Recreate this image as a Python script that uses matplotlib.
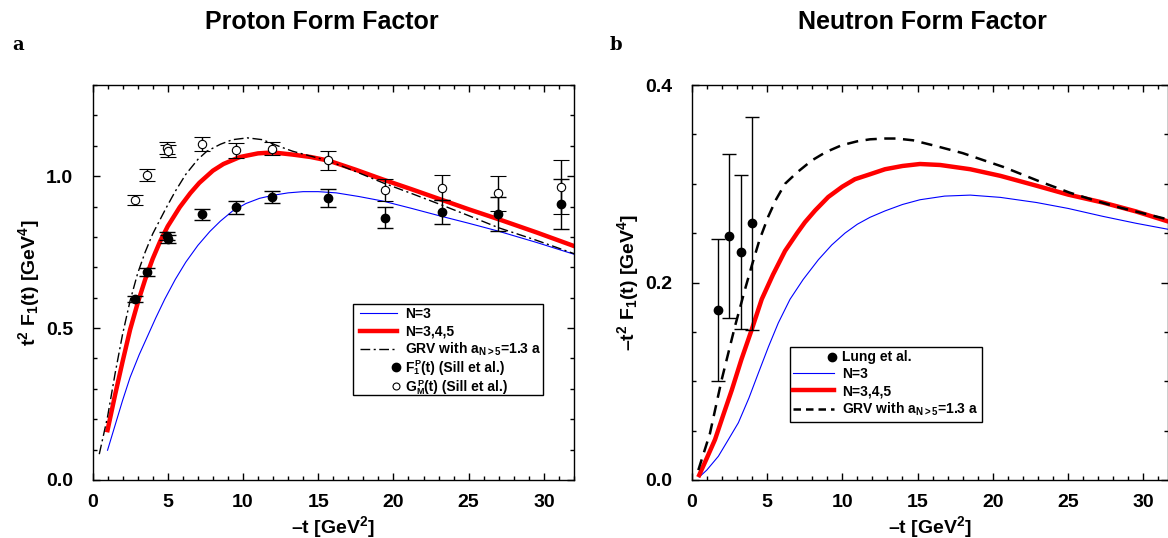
import numpy as np
import matplotlib
matplotlib.use("Agg")
import matplotlib.pyplot as plt
from matplotlib.ticker import MultipleLocator
from matplotlib.legend_handler import HandlerLine2D
from matplotlib.lines import Line2D
from matplotlib.patches import Rectangle

plt.rcParams['font.family'] = ['Liberation Sans', 'DejaVu Sans']
plt.rcParams['font.weight'] = 'bold'
plt.rcParams['mathtext.fontset'] = 'custom'
plt.rcParams['mathtext.rm'] = 'Liberation Sans:bold'
plt.rcParams['mathtext.it'] = 'Liberation Sans:bold'
plt.rcParams['mathtext.bf'] = 'Liberation Sans:bold'
plt.rcParams['mathtext.default'] = 'rm'

# ---------------- Proton data ----------------
p_t = [2.84, 3.6, 4.95, 5.05, 7.28, 9.57, 11.94, 15.67, 19.42, 23.2, 26.94, 31.16]
p_F1 = [0.596, 0.686, 0.803, 0.792, 0.874, 0.898, 0.932, 0.929, 0.863, 0.882, 0.876, 0.908]
p_F1_err = [0.011, 0.013, 0.013, 0.013, 0.017, 0.021, 0.02, 0.029, 0.034, 0.039, 0.055, 0.082]
p_GM = [0.921, 1.004, 1.093, 1.082, 1.106, 1.085, 1.091, 1.052, 0.954, 0.962, 0.943, 0.964]
p_GM_err = [0.017, 0.021, 0.02, 0.02, 0.023, 0.025, 0.023, 0.032, 0.037, 0.042, 0.058, 0.089]

p_n3_t = [1.0, 1.5, 2.0, 2.5, 3.1, 3.7, 4.2, 4.8, 5.5, 6.2, 7.0, 7.8, 8.5, 9.3, 10.2, 11.1,
          12.0, 13.0, 14.0, 15.0, 16.2, 17.7, 19.3, 21.2, 23.1, 25.0, 26.9, 29.5, 32.0]
p_n3_y = [0.098, 0.18, 0.262, 0.338, 0.412, 0.478, 0.533, 0.595, 0.66, 0.717, 0.772, 0.818,
          0.852, 0.885, 0.91, 0.927, 0.937, 0.945, 0.949, 0.949, 0.945, 0.933, 0.918, 0.894,
          0.869, 0.845, 0.820, 0.782, 0.743]

p_n345_t = [1.0, 1.5, 2.0, 2.5, 3.0, 3.5, 4.0, 4.5, 5.0, 5.8, 6.5, 7.1, 8.0, 8.7, 9.8, 11.0,
            12.0, 13.3, 14.5, 15.7, 17.5, 19.3, 21.2, 23.1, 25.0, 27.0, 29.5, 32.0]
p_n345_y = [0.164, 0.28, 0.39, 0.495, 0.582, 0.66, 0.728, 0.786, 0.835, 0.898, 0.944, 0.978,
            1.018, 1.040, 1.063, 1.075, 1.078, 1.071, 1.063, 1.051, 1.021, 0.989, 0.957, 0.924,
            0.891, 0.858, 0.815, 0.770]

p_grv_t = [0.45, 1.0, 1.5, 2.0, 2.5, 3.0, 3.5, 4.0, 4.9, 5.5, 6.2, 7.0, 7.6, 8.5, 9.3, 10.3,
           11.3, 12.3, 13.3, 14.5, 15.7, 17.5, 19.3, 21.2, 23.1, 25.0, 27.0, 29.5, 32.0]
p_grv_y = [0.085, 0.208, 0.35, 0.48, 0.59, 0.68, 0.75, 0.81, 0.896, 0.95, 1.006, 1.055, 1.082,
           1.105, 1.12, 1.126, 1.12, 1.10, 1.082, 1.066, 1.05, 1.015, 0.978, 0.943, 0.907,
           0.870, 0.830, 0.789, 0.745]

p_legend_labels = ['N=3', 'N=3,4,5', 'GRV with a$_{N>5}$=1.3 a']
p_legend_data_labels = [('F', '1', 'P', '(t) (Sill et al.)'),
                        ('G', 'M', 'P', '(t) (Sill et al.)')]

# ---------------- Neutron data ----------------
n_t = [1.73, 2.48, 3.25, 4.0]
n_F1 = [0.172, 0.247, 0.231, 0.260]
n_F1_err = [0.072, 0.083, 0.078, 0.108]

n_n3_t = [0.5, 1.0, 1.77, 2.4, 3.1, 3.8, 4.42, 5.1, 5.75, 6.53, 7.4, 8.41, 9.3, 10.18, 11.0,
          11.84, 12.84, 14.0, 15.16, 16.8, 18.5, 20.5, 22.9, 25.0, 27.3, 29.5, 31.6]
n_n3_y = [0.003, 0.010, 0.024, 0.040, 0.058, 0.083, 0.108, 0.135, 0.159, 0.183, 0.203, 0.223,
          0.238, 0.250, 0.259, 0.266, 0.2725, 0.279, 0.2838, 0.2875, 0.2885, 0.2862, 0.281,
          0.275, 0.267, 0.260, 0.254]

n_n345_t = [0.5, 1.0, 1.55, 2.1, 2.66, 3.3, 3.98, 4.65, 5.4, 6.2, 7.0, 7.52, 8.2, 9.07, 10.0,
            10.84, 11.84, 12.84, 14.0, 15.16, 16.5, 18.5, 20.5, 22.9, 25.0, 27.3, 29.5, 31.6]
n_n345_y = [0.005, 0.022, 0.041, 0.066, 0.091, 0.122, 0.152, 0.183, 0.208, 0.232, 0.250, 0.261,
            0.273, 0.2866, 0.297, 0.3046, 0.3096, 0.3147, 0.318, 0.320, 0.319, 0.3147, 0.308,
            0.298, 0.289, 0.281, 0.272, 0.262]

n_grv_t = [0.44, 1.21, 1.99, 2.88, 3.54, 3.98, 4.5, 5.09, 5.6, 6.2, 7.0, 7.97, 8.9, 9.96, 11.0,
           11.84, 12.84, 13.6, 14.7, 16.27, 18.0, 20.7, 23.0, 25.1, 27.0, 28.4, 30.0, 31.6]
n_grv_y = [0.010, 0.047, 0.1015, 0.156, 0.193, 0.2166, 0.243, 0.267, 0.284, 0.300, 0.3115,
           0.3235, 0.332, 0.339, 0.343, 0.345, 0.3458, 0.3458, 0.344, 0.338, 0.331, 0.317,
           0.303, 0.291, 0.282, 0.276, 0.270, 0.264]

n_legend_labels = ['Lung et al.', 'N=3', 'N=3,4,5', 'GRV with a$_{N>5}$=1.3 a']

W, H = 1168, 538
fig = plt.figure(figsize=(W / 100, H / 100), dpi=100)
renderer = fig.canvas.get_renderer()


def ax_rect(x0, x1, y0, y1):
    return [x0 / W, 1 - y1 / H, (x1 - x0) / W, (y1 - y0) / H]


def fx(px):
    return px / W


def fy(py):
    return 1 - py / H


class RightMarker(HandlerLine2D):
    def get_xdata(self, legend, xdescent, ydescent, width, height, fontsize):
        x = width - xdescent - 1.5
        return np.array([x - 0.5, x + 0.5]), np.array([x])


def style_axes(ax, xmaj, xmin, ymaj, ymin):
    ax.xaxis.set_major_locator(MultipleLocator(xmaj))
    ax.xaxis.set_minor_locator(MultipleLocator(xmin))
    ax.yaxis.set_major_locator(MultipleLocator(ymaj))
    ax.yaxis.set_minor_locator(MultipleLocator(ymin))
    ax.tick_params(which='both', direction='in', top=True, right=True, width=1.0)
    ax.tick_params(which='major', length=5, labelsize=14)
    ax.tick_params(which='minor', length=3)
    ax.tick_params(axis='y', which='major', pad=14)
    ax.tick_params(axis='x', which='major', pad=10)
    for s in ax.spines.values():
        s.set_linewidth(1.0)
    for lab in ax.get_xticklabels() + ax.get_yticklabels():
        lab.set_fontweight('bold')


def composite_label(x, base, main, sub, sup, rest, fs=10, sfs=6.5):
    t1 = fig.text(fx(x), fy(base), main, ha='left', va='baseline', fontsize=fs,
                  fontweight='bold', zorder=7)
    xs = t1.get_window_extent(renderer).x1 + 0.3
    t2 = fig.text(xs / W, fy(base + 2.5), sub, ha='left', va='baseline', fontsize=sfs,
                  fontweight='bold', zorder=7)
    t3 = fig.text((xs + 1) / W, fy(base - 5.5), sup, ha='left', va='baseline', fontsize=sfs,
                  fontweight='bold', zorder=7)
    xr = max(t2.get_window_extent(renderer).x1, t3.get_window_extent(renderer).x1) + 0.5
    fig.text(xr / W, fy(base), rest, ha='left', va='baseline', fontsize=fs,
             fontweight='bold', zorder=7)


# ---------------- Left panel ----------------
axL = fig.add_axes(ax_rect(92.5, 574, 85, 480))
st_n3 = dict(color='#0000ff', lw=0.8)
st_n345 = dict(color='#ff0000', lw=3.2)
st_grvL = dict(color='black', lw=1.0, dashes=(7, 2.5, 1.5, 2.5))
axL.plot(p_n3_t, p_n3_y, **st_n3)
axL.plot(p_n345_t, p_n345_y, **st_n345)
axL.plot(p_grv_t, p_grv_y, **st_grvL)
axL.errorbar(p_t, p_F1, yerr=p_F1_err, fmt='o', color='black', ms=6, capsize=6,
             elinewidth=1.0, capthick=1.0)
axL.errorbar(p_t, p_GM, yerr=p_GM_err, fmt='o', color='black', mfc='white', ms=6,
             mew=0.8, capsize=6, elinewidth=1.0, capthick=1.0)
axL.set_xlim(0, 32)
axL.set_ylim(0, 1.3)
style_axes(axL, 5, 1, 0.5, 0.1)
axL.set_yticks([0.0, 0.5, 1.0])
axL.set_yticklabels(['0.0', '0.5', '1.0'])
axL.set_xlabel('\u2013t [GeV$^2$]', fontsize=14, fontweight='bold', labelpad=2)
axL.set_ylabel('t$^2$ F$_1$(t) [GeV$^4$]', fontsize=14, fontweight='bold', labelpad=3)

# legend box drawn in figure coordinates (rows evenly spaced as in the reference)
fig.add_artist(Rectangle((fx(353), fy(395)), fx(543) - fx(353), fy(304) - fy(395),
                         transform=fig.transFigure, facecolor='white', edgecolor='black',
                         lw=1.0, zorder=5))
rows = [313, 331, 349, 367, 386]
hstyles = [st_n3, st_n345, st_grvL]
for i, st in enumerate(hstyles):
    fig.add_artist(Line2D([fx(360), fx(397)], [fy(rows[i])] * 2, transform=fig.transFigure,
                          zorder=6, **st))
fig.add_artist(Line2D([fx(396)], [fy(rows[3])], transform=fig.transFigure, marker='o',
                      ls='none', color='black', ms=6, zorder=6))
fig.add_artist(Line2D([fx(396)], [fy(rows[4])], transform=fig.transFigure, marker='o',
                      ls='none', color='black', mfc='white', mew=0.8, ms=5, zorder=6))
for r, lab in zip(rows[:3], p_legend_labels):
    fig.text(fx(405), fy(r + 5), lab, ha='left', va='baseline', fontsize=10,
             fontweight='bold', zorder=7)
for r, parts in zip(rows[3:], p_legend_data_labels):
    composite_label(405, r + 5, *parts)

# ---------------- Right panel ----------------
axR = fig.add_axes(ax_rect(691.7, 1167.5, 85, 480))
st_grvR = dict(color='black', lw=1.8, dashes=(4.5, 3))
axR.plot(n_n3_t, n_n3_y, **st_n3)
axR.plot(n_n345_t, n_n345_y, **st_n345)
axR.plot(n_grv_t, n_grv_y, **st_grvR)
axR.errorbar(n_t, n_F1, yerr=n_F1_err, fmt='o', color='black', ms=6, capsize=5,
             elinewidth=1.0, capthick=1.0)
axR.set_xlim(0, 31.6)
axR.set_ylim(0, 0.4)
style_axes(axR, 5, 1, 0.2, 0.05)
axR.set_yticks([0.0, 0.2, 0.4])
axR.set_yticklabels(['0.0', '0.2', '0.4'])
axR.set_xlabel('\u2013t [GeV$^2$]', fontsize=14, fontweight='bold', labelpad=2)
axR.set_ylabel('\u2013t$^2$ F$_1$(t) [GeV$^4$]', fontsize=14, fontweight='bold', labelpad=3)

hR = [Line2D([], [], color='black', marker='o', ls='none', ms=6),
      Line2D([], [], **st_n3),
      Line2D([], [], **st_n345),
      Line2D([], [], color='black', lw=1.8, dashes=(3, 2))]
legR = axR.legend(hR, n_legend_labels, bbox_to_anchor=(790 / W, 1 - 347 / H),
                  bbox_transform=fig.transFigure, labelspacing=0.2, loc='upper left',
                  frameon=True, fancybox=False, edgecolor='black', framealpha=1,
                  prop={'size': 10, 'weight': 'bold'}, handlelength=2.9,
                  handletextpad=0.6, borderpad=0.25, borderaxespad=0, numpoints=1,
                  handler_map={hR[0]: RightMarker()})
legR.get_frame().set_linewidth(1.0)

# ---------------- Titles / panel letters ----------------
fig.text(322 / W, 1 - 22 / H, 'Proton Form Factor', ha='center', va='center',
         fontsize=18, fontweight='bold')
fig.text(922 / W, 1 - 22 / H, 'Neutron Form Factor', ha='center', va='center',
         fontsize=18, fontweight='bold')
fig.text(12 / W, 1 - 50 / H, 'a', ha='left', va='baseline', fontsize=13,
         fontweight='bold', family='DejaVu Serif')
fig.text(610 / W, 1 - 50 / H, 'b', ha='left', va='baseline', fontsize=13,
         fontweight='bold', family='DejaVu Serif')

fig.savefig('out.png', dpi=100)
